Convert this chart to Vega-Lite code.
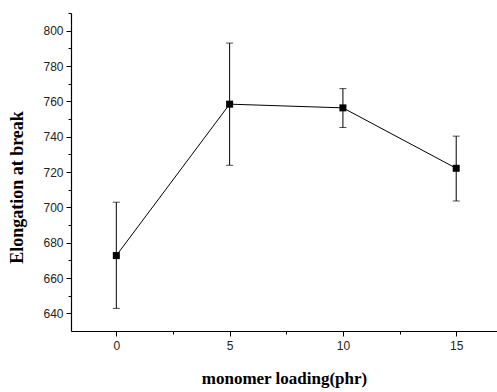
{
  "$schema": "https://vega.github.io/schema/vega-lite/v6.json",
  "width": 426,
  "height": 318,
  "autosize": {"type": "none"},
  "padding": {"left": 71, "top": 13, "right": 0, "bottom": 61},
  "background": "white",
  "config": {
    "view": {"stroke": null},
    "axis": {
      "grid": false,
      "domainColor": "#000",
      "domainWidth": 1.2,
      "tickColor": "#000",
      "tickWidth": 1,
      "labelFont": "Liberation Sans",
      "labelFontSize": 12,
      "labelColor": "#222",
      "labelOverlap": false,
      "titleFont": "Liberation Serif",
      "titleFontSize": 17,
      "titleFontWeight": "bold",
      "titleColor": "#000"
    }
  },
  "data": {
    "values": [
      {"x": 0, "y": 672.7, "lo": 642.8, "hi": 702.9},
      {"x": 5, "y": 758.4, "lo": 723.8, "hi": 793.0},
      {"x": 10, "y": 756.3, "lo": 745.2, "hi": 767.2},
      {"x": 15, "y": 722.1, "lo": 703.6, "hi": 740.3}
    ]
  },
  "encoding": {
    "x": {
      "field": "x",
      "type": "quantitative",
      "scale": {"domain": [-2, 16.8], "nice": false, "zero": false},
      "axis": {
        "title": "monomer loading(phr)",
        "values": [0, 2.5, 5, 7.5, 10, 12.5, 15],
        "labelExpr": "datum.value % 5 === 0 ? datum.label : ''",
        "labelOverlap": false,
        "tickSize": {"condition": {"test": "datum.value % 5 === 0", "value": 5}, "value": 3},
        "labelPadding": 4,
        "titlePadding": 19
      }
    }
  },
  "layer": [
    {
      "mark": {"type": "line", "color": "#000", "strokeWidth": 1},
      "encoding": {
        "y": {
          "field": "y", "type": "quantitative",
          "scale": {"domain": [630, 810], "nice": false, "zero": false},
          "axis": {"title": "Elongation at break", "titleFontSize": 18, "titleY": 174, "values": [640, 650, 660, 670, 680, 690, 700, 710, 720, 730, 740, 750, 760, 770, 780, 790, 800, 810], "labelExpr": "datum.value % 20 === 0 && datum.value <= 800 ? datum.label : ''", "labelOverlap": false, "tickSize": {"condition": {"test": "datum.value % 20 === 0", "value": 5}, "value": 3}, "labelPadding": 3, "titlePadding": 16}
        }
      }
    },
    {
      "mark": {"type": "rule", "color": "#000", "strokeWidth": 1},
      "encoding": {
        "y": {
          "field": "lo", "type": "quantitative",
          "axis": {"title": "Elongation at break", "titleFontSize": 18, "titleY": 174, "values": [640, 650, 660, 670, 680, 690, 700, 710, 720, 730, 740, 750, 760, 770, 780, 790, 800, 810], "labelExpr": "datum.value % 20 === 0 && datum.value <= 800 ? datum.label : ''", "labelOverlap": false, "tickSize": {"condition": {"test": "datum.value % 20 === 0", "value": 5}, "value": 3}, "labelPadding": 3, "titlePadding": 16}
        },
        "y2": {"field": "hi"}
      }
    },
    {
      "mark": {"type": "tick", "color": "#000", "thickness": 1, "size": 7, "orient": "horizontal"},
      "encoding": {
        "y": {
          "field": "lo", "type": "quantitative",
          "axis": {"title": "Elongation at break", "titleFontSize": 18, "titleY": 174, "values": [640, 650, 660, 670, 680, 690, 700, 710, 720, 730, 740, 750, 760, 770, 780, 790, 800, 810], "labelExpr": "datum.value % 20 === 0 && datum.value <= 800 ? datum.label : ''", "labelOverlap": false, "tickSize": {"condition": {"test": "datum.value % 20 === 0", "value": 5}, "value": 3}, "labelPadding": 3, "titlePadding": 16}
        }
      }
    },
    {
      "mark": {"type": "tick", "color": "#000", "thickness": 1, "size": 7, "orient": "horizontal"},
      "encoding": {
        "y": {
          "field": "hi", "type": "quantitative",
          "axis": {"title": "Elongation at break", "titleFontSize": 18, "titleY": 174, "values": [640, 650, 660, 670, 680, 690, 700, 710, 720, 730, 740, 750, 760, 770, 780, 790, 800, 810], "labelExpr": "datum.value % 20 === 0 && datum.value <= 800 ? datum.label : ''", "labelOverlap": false, "tickSize": {"condition": {"test": "datum.value % 20 === 0", "value": 5}, "value": 3}, "labelPadding": 3, "titlePadding": 16}
        }
      }
    },
    {
      "mark": {"type": "square", "color": "#000", "filled": true, "opacity": 1, "size": 49},
      "encoding": {
        "y": {
          "field": "y", "type": "quantitative",
          "axis": {"title": "Elongation at break", "titleFontSize": 18, "titleY": 174, "values": [640, 650, 660, 670, 680, 690, 700, 710, 720, 730, 740, 750, 760, 770, 780, 790, 800, 810], "labelExpr": "datum.value % 20 === 0 && datum.value <= 800 ? datum.label : ''", "labelOverlap": false, "tickSize": {"condition": {"test": "datum.value % 20 === 0", "value": 5}, "value": 3}, "labelPadding": 3, "titlePadding": 16}
        }
      }
    }
  ]
}
